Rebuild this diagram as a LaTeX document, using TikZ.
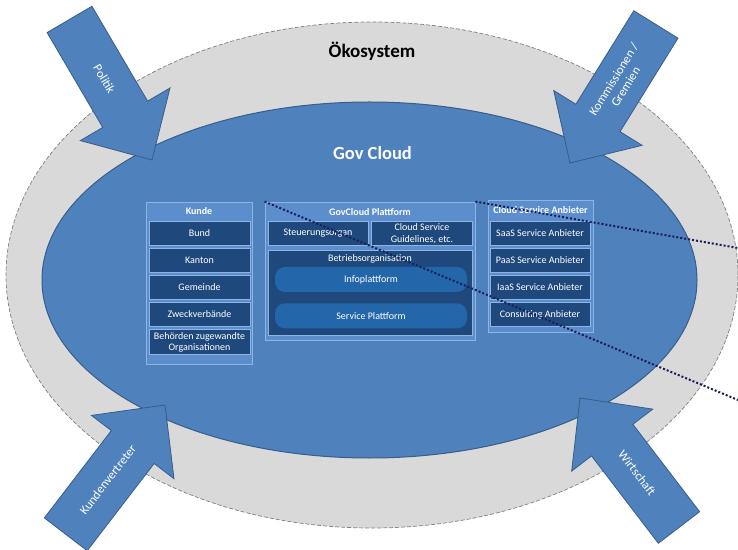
\documentclass[tikz,border=0pt]{standalone}
\usepackage{fontspec}
\setmainfont{Carlito}
\usepackage{tikz}
\usetikzlibrary{positioning}
\definecolor{gcblue}{RGB}{79,129,189}
\definecolor{gcborder}{RGB}{56,93,138}
\definecolor{ecogray}{RGB}{217,217,217}
\definecolor{ecoline}{RGB}{128,128,128}
\definecolor{panelfill}{RGB}{92,142,205}
\definecolor{panelline}{RGB}{141,180,226}
\definecolor{boxfill}{RGB}{31,73,125}
\definecolor{roundfill}{RGB}{36,102,170}
\definecolor{zoomnavy}{RGB}{25,30,90}

\begin{document}
\begin{tikzpicture}[x=1pt,y=1pt,node distance=3pt,
	bigarrow/.style={fill=gcblue,draw=gcborder,line width=0.8pt,line join=miter},
	arrowtext/.style={text=white,align=center,font=\fontsize{12.5}{14}\selectfont,inner sep=0pt},
	panel/.style={draw=panelline,fill=panelfill,line width=0.8pt,inner sep=0pt},
	head/.style={text=white,font=\bfseries\fontsize{10}{12}\selectfont,inner sep=0pt},
	item/.style={draw=panelline,fill=boxfill,line width=0.5pt,text=white,align=center,font=\fontsize{10}{11.5}\selectfont,inner sep=0pt,minimum height=23.5pt},
	pill/.style={fill=roundfill,rounded corners=10pt,text=white,font=\fontsize{10}{12}\selectfont,inner sep=0pt,minimum width=192pt,minimum height=25pt},
	zoomline/.style={draw=zoomnavy,line width=2pt,dash pattern=on 2pt off 2pt}]

	\useasboundingbox (0,0) rectangle (738,549);

	\draw[fill=ecogray,draw=ecoline,line width=0.7pt,dash pattern=on 4pt off 2pt] (372,274) ellipse [x radius=366pt,y radius=253pt];
	\draw[fill=gcblue,draw=gcborder,line width=1pt] (369.5,269) ellipse [x radius=327.5pt,y radius=178pt];

	\node[anchor=base,font=\bfseries\fontsize{19}{22}\selectfont] (eco) at (372,491) {Ökosystem};
	\node[anchor=base,text=white,font=\bfseries\fontsize{18.5}{22}\selectfont] (gov) at (372.5,389) {Gov Cloud};

	\begin{scope}[shift={(152,389)},rotate=-59.6]
		\draw[bigarrow] (0,0) -- (-53,52) -- (-53,26) -- (-163,26) -- (-163,-26) -- (-53,-26) -- (-53,-52) -- cycle;
		\node[arrowtext,rotate=-59.6] (politik) at (-94,0) {Politik};
	\end{scope}
	\begin{scope}[shift={(570,386)},rotate=-121.8]
		\draw[bigarrow] (0,0) -- (-53,52) -- (-53,26) -- (-163,26) -- (-163,-26) -- (-53,-26) -- (-53,-52) -- cycle;
		\node[arrowtext,rotate=58.2] (gremien) at (-94,0) {Kommissionen /\\Gremien};
	\end{scope}
	\begin{scope}[shift={(165,144)},rotate=52.5]
		\draw[bigarrow] (0,0) -- (-53,52) -- (-53,27) -- (-163,27) -- (-163,-27) -- (-53,-27) -- (-53,-52) -- cycle;
		\node[arrowtext,rotate=52.5] (kundenv) at (-94,0) {Kundenvertreter};
	\end{scope}
	\begin{scope}[shift={(580,151)},rotate=127.4]
		\draw[bigarrow] (0,0) -- (-53,51) -- (-53,26) -- (-163,26) -- (-163,-26) -- (-53,-26) -- (-53,-51) -- cycle;
		\node[arrowtext,rotate=-52.6] (wirtschaft) at (-94,0) {Wirtschaft};
	\end{scope}

	\node[panel,minimum width=106pt,minimum height=162pt] (kunde) at (199,266) {};
	\node[head] (kundeHead) at (199,338) {Kunde};
	\node[item,minimum width=101pt] (bund) at (199.5,315.5) {Bund};
	\node[item,minimum width=101pt] (kanton) [below=of bund] {Kanton};
	\node[item,minimum width=101pt] (gemeinde) [below=of kanton] {Gemeinde};
	\node[item,minimum width=101pt] (zweck) [below=of gemeinde] {Zweckverbände};
	\node[item,minimum width=101pt,minimum height=25pt] (behoerden) [below=of zweck] {Behörden zugewandte\\Organisationen};

	\node[panel,minimum width=210pt,minimum height=138pt] (gcp) at (370,278) {};
	\node[head] (gcpHead) at (370,337) {GovCloud Plattform};
	\node[item,minimum width=100pt] (steuer) at (318,315.5) {Steuerungsorgan};
	\node[item,minimum width=101pt] (guide) [right=of steuer] {Cloud Service\\Guidelines, etc.};
	\node[item,minimum width=204pt,minimum height=85pt] (betrieb) at (370,256.5) {};
	\node[text=white,font=\fontsize{10}{12}\selectfont,inner sep=0pt] (betriebLabel) [below=4.5pt of betrieb.north] {Betriebsorganisation};
	\node[pill] (info) at (371,269.5) {Infoplattform};
	\node[pill] (service) [below=11pt of info] {Service Plattform};

	\node[panel,minimum width=105pt,minimum height=132pt] (csa) at (540.5,283) {};
	\node[head] (csaHead) at (540.5,339) {Cloud Service Anbieter};
	\node[item,minimum width=100pt] (saas) at (540,315.5) {SaaS Service Anbieter};
	\node[item,minimum width=100pt] (paas) [below=of saas] {PaaS Service Anbieter};
	\node[item,minimum width=100pt] (iaas) [below=of paas] {IaaS Service Anbieter};
	\node[item,minimum width=100pt] (consult) [below=of iaas] {Consulting Anbieter};

	\coordinate (zoomLow) at (738,149);
	\coordinate (zoomHigh) at (738,301);
	\draw[zoomline] (gcp.north west) -- (zoomLow);
	\draw[zoomline] (gcp.north east) -- (zoomHigh);

\end{tikzpicture}
\end{document}
